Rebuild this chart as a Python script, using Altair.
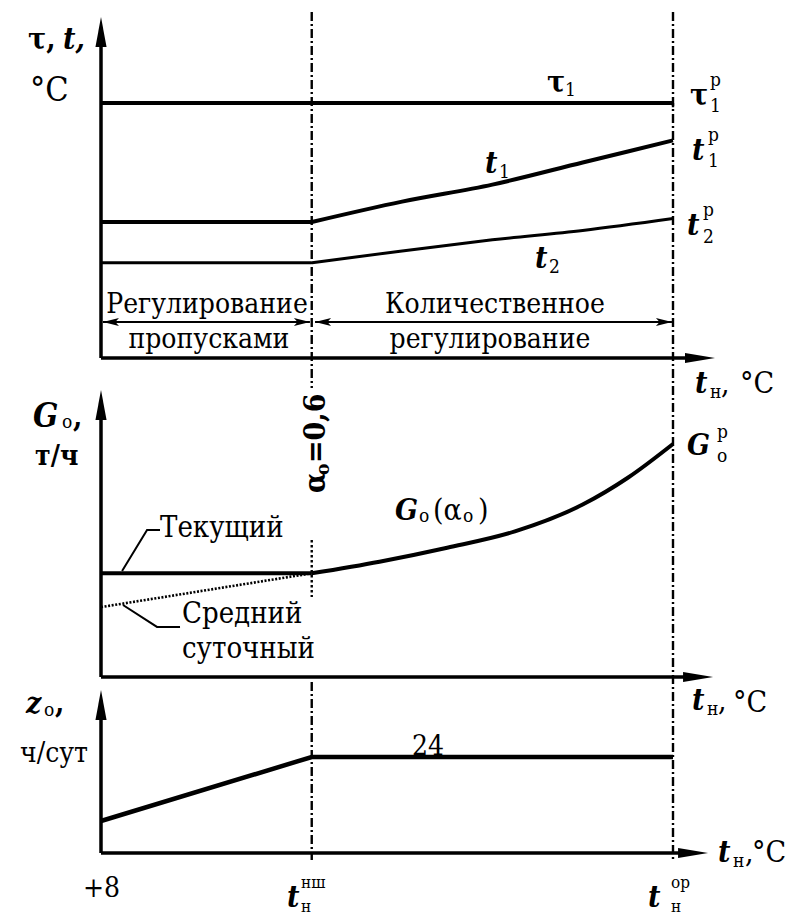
import altair as alt
import pandas as pd

FONT = "DejaVu Serif Condensed"
INK = "black"

# Outdoor temperature t_н, °C (schematic): +8, t_н^нш and t_н^op
T_START, T_NSH, T_OP = 8, -6, -30

# Panel 1 - network water temperatures, °C
tn_pts = [8, -6, -12, -18, -24, -30]
tau1 = 150
t1 = [80, 80, 92, 102, 115, 128]
t2 = [56, 56, 63, 69.5, 75, 82]

# Panel 2 - network water flow G_o, t/h (relative)
g_tn = [8, -6, -10.5, -15, -19.5, -24, -27, -30]
g_cur = [44.5, 44.5, 49.5, 55.5, 62.5, 74, 85.5, 100]
g_avg_tn = [8, -6]
g_avg = [30, 44.5]

# Panel 3 - heating hours per day z_o
z_tn = [8, -6, -30]
z_val = [8, 24, 24]

# Scales: one shared temperature axis, one value scale per panel
X = alt.Scale(domain=[T_START, T_OP], range=[101, 673], nice=False, zero=False)
YS = {
    "A": alt.Scale(domain=[0, 150], range=[358, 103], nice=False, zero=False),
    "B": alt.Scale(domain=[0, 100], range=[677, 444], nice=False, zero=False),
    "C": alt.Scale(domain=[0, 24], range=[853, 757], nice=False, zero=False),
}


def xy(panel):
    return {"x": alt.X("tn:Q", scale=X, axis=None),
            "y": alt.Y("v:Q", scale=YS[panel], axis=None)}


def df(xs, ys):
    return pd.DataFrame({"tn": xs, "v": ys, "i": range(len(xs))})


def line(data, panel, width, dash=None, interp="linear"):
    kw = dict(color=INK, strokeWidth=width, interpolate=interp, strokeCap="butt")
    if dash:
        kw["strokeDash"] = dash
    return alt.Chart(data).mark_line(**kw).encode(**xy(panel), order="i:Q")


def vrule(panel, tn, v1, v2, width, dash=None):
    kw = dict(color=INK, strokeWidth=width)
    if dash:
        kw["strokeDash"] = dash
    d = pd.DataFrame({"tn": [tn], "v": [v1], "v2": [v2]})
    return alt.Chart(d).mark_rule(**kw).encode(**xy(panel), y2="v2:Q")


def hrule(panel, tn1, tn2, v, width):
    d = pd.DataFrame({"tn": [tn1], "tn2": [tn2], "v": [v]})
    return alt.Chart(d).mark_rule(color=INK, strokeWidth=width).encode(**xy(panel), x2="tn2:Q")


ARROW_UP = "M0,0 L0.37,2 L-0.37,2 Z"
ARROW_RIGHT = "M0,0 L-2,-0.34 L-2,0.34 Z"
HEAD_LEFT = "M0,0 L2,-0.5 L1.55,0 L2,0.5 Z"
HEAD_RIGHT = "M0,0 L-2,-0.5 L-1.55,0 L-2,0.5 Z"


def heads(panel, xs, ys, shape, size):
    return alt.Chart(df(xs, ys)).mark_point(
        shape=shape, filled=True, size=size, color=INK, opacity=1, strokeWidth=0
    ).encode(**xy(panel))


layers = []

# Coordinate axes with arrows: (panel, y-line end, y tip, x-line end, x tip)
AXES = [("A", 193.5, 200.6, -31.99, -32.79),
        ("B", 118.0, 123.2, -31.86, -32.66),
        ("C", 37.75, 40.75, -31.53, -32.33)]
for p, yend, ytip, xend, xtip in AXES:
    layers.append(vrule(p, T_START, 0, yend, 3.5))
    layers.append(hrule(p, T_START, xend, 0, 3.5))
    layers.append(heads(p, [T_START], [ytip], ARROW_UP, 900))
    layers.append(heads(p, [xtip], [0], ARROW_RIGHT, 900))

# Dash-dot guides at t_н^нш and t_н^op
DASHDOT = [9, 3, 2, 3]
layers.append(vrule("A", T_NSH, 203.5, -17.6, 2.4, DASHDOT))
layers.append(vrule("B", T_NSH, 58.8, 34.3, 2.4, [2.5, 2.5]))
layers.append(vrule("C", T_NSH, 42.75, -1.75, 2.4, DASHDOT))
layers.append(vrule("A", T_OP, 203.5, -295.3, 2.4, DASHDOT))

# Panel 1 curves
layers.append(line(df([T_START, T_OP], [tau1, tau1]), "A", 4))
layers.append(line(df(tn_pts[:2], t1[:2]), "A", 4))
layers.append(line(df(tn_pts[1:], t1[1:]), "A", 4, interp="monotone"))
layers.append(line(df(tn_pts[:2], t2[:2]), "A", 3))
layers.append(line(df(tn_pts[1:], t2[1:]), "A", 3, interp="monotone"))
layers.append(vrule("A", T_OP, tau1, tau1 - 2.5, 2.4))

# Regime double arrows
REG_V = 21.2
layers.append(hrule("A", 7.87, -5.88, REG_V, 2))
layers.append(hrule("A", -6.22, -29.93, REG_V, 2))
layers.append(heads("A", [7.87, -6.22], [REG_V, REG_V], HEAD_LEFT, 256))
layers.append(heads("A", [-5.88, -29.93], [REG_V, REG_V], HEAD_RIGHT, 256))

# Panel 2 curves
layers.append(line(df(g_tn[:2], g_cur[:2]), "B", 4))
layers.append(line(df(g_tn[1:], g_cur[1:]), "B", 4, interp="monotone"))
layers.append(line(df(g_avg_tn, g_avg), "B", 2.6, dash=[2, 1.6]))
# leader lines for the flow labels
layers.append(line(df([6.60, 4.94, 4.08], [45.5, 63.1, 63.1]), "B", 2))
layers.append(line(df([6.54, 4.28, 2.75], [30.9, 21.5, 21.5]), "B", 2))

# Panel 3 curve
layers.append(line(df(z_tn, z_val), "C", 4.5))

# Text labels: (panel, text, tn, value, size, font, align, angle)
LABELS = [
    ("A", "τ,", 12.85, 181.8, 30, "b", "left", 0),
    ("A", "t,", 10.52, 181.8, 30, "bi", "left", 0),
    ("A", "°C", 12.72, 151.2, 34, "r", "left", 0),
    ("A", "τ", -21.63, 156.5, 30, "b", "left", 0),
    ("A", "1", -22.83, 154.1, 19, "r", "left", 0),
    ("A", "t", -17.51, 108.8, 30, "bi", "left", 0),
    ("A", "1", -18.44, 105.9, 19, "r", "left", 0),
    ("A", "t", -20.83, 52.9, 30, "bi", "left", 0),
    ("A", "2", -21.76, 50.0, 19, "r", "left", 0),
    ("A", "τ", -31.13, 148.8, 30, "b", "left", 0),
    ("A", "p", -32.46, 160.0, 19, "r", "left", 0),
    ("A", "1", -32.46, 144.7, 19, "r", "left", 0),
    ("A", "t", -31.26, 116.5, 30, "bi", "left", 0),
    ("A", "p", -32.33, 127.6, 19, "r", "left", 0),
    ("A", "1", -32.33, 112.4, 19, "r", "left", 0),
    ("A", "t", -30.93, 72.4, 30, "bi", "left", 0),
    ("A", "p", -31.99, 83.5, 19, "r", "left", 0),
    ("A", "2", -31.99, 67.6, 19, "r", "left", 0),
    ("A", "Регулирование", 0.96, 26.5, 28, "r", "center", 0),
    ("A", "пропусками", 0.83, 5.9, 28, "r", "center", 0),
    ("A", "Количественное", -18.17, 26.5, 28, "r", "center", 0),
    ("A", "регулирование", -17.84, 5.9, 28, "r", "center", 0),
    ("A", "t", -31.46, -20.6, 30, "bi", "left", 0),
    ("A", "н", -32.46, -23.5, 19, "r", "left", 0),
    ("A", ",", -33.19, -20.6, 30, "r", "left", 0),
    ("A", "°C", -34.45, -20.6, 30, "r", "left", 0),

    ("B", "G", 12.52, 107.3, 33, "bi", "left", 0),
    ("B", "o", 10.59, 106.9, 19, "r", "left", 0),
    ("B", ",", 9.86, 107.3, 30, "b", "left", 0),
    ("B", "т/ч", 12.38, 91.0, 28, "b", "left", 0),
    ("B", "Текущий", 4.08, 60.1, 29, "r", "left", 0),
    ("B", "Средний", 2.62, 23.2, 29, "r", "left", 0),
    ("B", "суточный", 2.62, 8.2, 29, "r", "left", 0),
    ("B", "G", -11.53, 67.4, 30, "bi", "left", 0),
    ("B", "o", -13.13, 66.5, 19, "r", "left", 0),
    ("B", "(α", -14.05, 67.4, 30, "r", "left", 0),
    ("B", "o", -16.05, 66.5, 19, "r", "left", 0),
    ("B", ")", -17.05, 67.4, 30, "r", "left", 0),
    ("B", "G", -30.93, 95.3, 30, "bi", "left", 0),
    ("B", "p", -32.92, 102.6, 19, "r", "left", 0),
    ("B", "o", -32.92, 92.3, 19, "r", "left", 0),
    ("B", "t", -31.26, -14.2, 30, "bi", "left", 0),
    ("B", "н", -32.26, -16.3, 19, "r", "left", 0),
    ("B", ",", -32.99, -14.2, 30, "r", "left", 0),
    ("B", "°C", -33.99, -15.0, 30, "r", "left", 0),
    ("B", "α", -6.88, 79.0, 30, "b", "left", 270),
    ("B", "o", -7.15, 86.7, 19, "b", "left", 270),
    ("B", "=0,6", -6.88, 91.8, 30, "b", "left", 270),

    ("C", "z", 12.98, 35.0, 30, "bi", "left", 0),
    ("C", "o", 11.79, 34.25, 19, "r", "left", 0),
    ("C", ",", 11.06, 35.0, 30, "b", "left", 0),
    ("C", "ч/сут", 13.38, 22.75, 28, "r", "left", 0),
    ("C", "24", -13.72, 24.5, 28, "r", "center", 0),
    ("C", "+8", 9.2, -11.0, 28, "r", "left", 0),
    ("C", "t", -4.36, -13.5, 30, "bi", "left", 0),
    ("C", "нш", -5.29, -8.75, 17, "r", "left", 0),
    ("C", "н", -5.29, -14.75, 17, "r", "left", 0),
    ("C", "t", -28.34, -13.5, 30, "bi", "left", 0),
    ("C", "op", -29.87, -8.75, 17, "r", "left", 0),
    ("C", "н", -29.87, -14.75, 17, "r", "left", 0),
    ("C", "t", -32.99, -2.25, 30, "bi", "left", 0),
    ("C", "н", -33.99, -3.5, 19, "r", "left", 0),
    ("C", ",", -34.78, -2.25, 30, "r", "left", 0),
    ("C", "°C", -35.25, -2.25, 30, "r", "left", 0),
]
labels = pd.DataFrame(LABELS, columns=["panel", "text", "tn", "v", "size", "font", "align", "angle"])
FONTS = {"r": ("normal", "normal"), "b": ("bold", "normal"), "bi": ("bold", "italic")}

for (panel, font, align, angle), grp in labels.groupby(["panel", "font", "align", "angle"]):
    weight, style = FONTS[font]
    layers.append(
        alt.Chart(grp.drop(columns=["panel", "font", "align", "angle"])).mark_text(
            font=FONT, fontWeight=weight, fontStyle=style, align=align,
            baseline="alphabetic", angle=int(angle), color=INK
        ).encode(**xy(panel), text="text:N", size=alt.Size("size:Q", scale=None))
    )

chart = (
    alt.layer(*layers)
    .resolve_scale(y="independent")
    .properties(width=810, height=915, padding=0, autosize="none", background="white")
    .configure_view(stroke=None)
)

chart.save("out.html", embed_options={"renderer": "svg", "actions": False})
